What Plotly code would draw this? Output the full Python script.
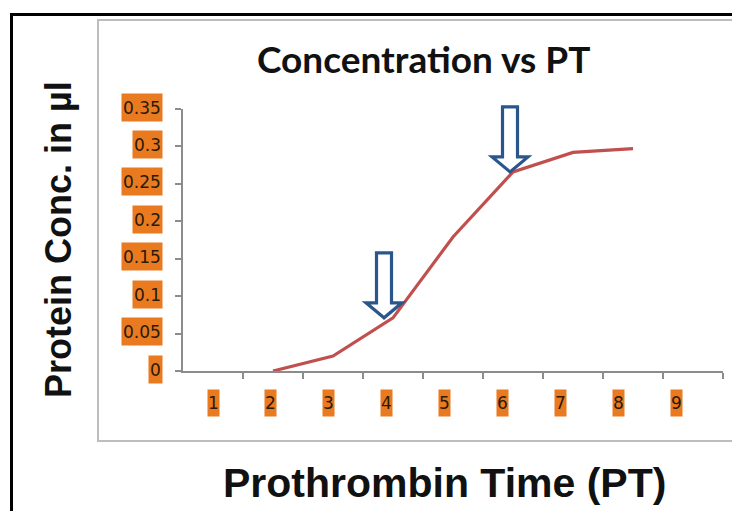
import plotly.graph_objects as go

# ---- data ----
pt_time = [2, 3, 4, 5, 6, 7, 8]
protein_conc = [0.0, 0.02, 0.071, 0.179, 0.266, 0.292, 0.297]
x_tick_labels = ["1", "2", "3", "4", "5", "6", "7", "8", "9"]
y_tick_values = [0, 0.05, 0.1, 0.15, 0.2, 0.25, 0.3, 0.35]
y_tick_labels = ["0", "0.05", "0.1", "0.15", "0.2", "0.25", "0.3", "0.35"]
arrow_targets_x = [3.85, 5.95]
arrow_targets_y = [0.071, 0.266]

# page body has an 8px default margin: the figure is sized to fit the window
OFF = 8
W, H = 740 - OFF, 511 - OFF
def px_x(p):
    return (p - OFF) / W
def px_y(p):
    return 1 - (p - OFF) / H

ORANGE = "#E97A1F"
LINE_RED = "#C0504D"
ARROW_BLUE = "#2B568C"
AXIS_GRAY = "#8C8C8C"

n_cat = len(x_tick_labels)
X_DOMAIN = [px_x(183), px_x(723)]
X_RANGE = [0.5, n_cat + 0.5]
Y_DOMAIN = [px_y(371), px_y(109)]
Y_RANGE = [0, 0.35]

def data_to_paper_x(v):
    return X_DOMAIN[0] + (v - X_RANGE[0]) / (X_RANGE[1] - X_RANGE[0]) * (X_DOMAIN[1] - X_DOMAIN[0])
def data_to_paper_y(v):
    return Y_DOMAIN[0] + (v - Y_RANGE[0]) / (Y_RANGE[1] - Y_RANGE[0]) * (Y_DOMAIN[1] - Y_DOMAIN[0])

fig = go.Figure()
fig.add_trace(go.Scatter(
    x=pt_time, y=protein_conc, mode="lines",
    line=dict(color=LINE_RED, width=3.2),
    showlegend=False, hoverinfo="skip",
))

fig.update_layout(
    width=W, height=H,
    margin=dict(l=0, r=0, t=0, b=0),
    paper_bgcolor="white", plot_bgcolor="white",
    showlegend=False,
    xaxis=dict(
        domain=X_DOMAIN, range=X_RANGE,
        showgrid=False, zeroline=False,
        showline=True, linecolor=AXIS_GRAY, linewidth=1.5,
        tickmode="array",
        tickvals=[i + 0.5 for i in range(1, n_cat + 1)],
        ticks="outside", ticklen=6, tickcolor=AXIS_GRAY, tickwidth=1.5,
        showticklabels=False,
    ),
    yaxis=dict(
        domain=Y_DOMAIN, range=Y_RANGE,
        showgrid=False, zeroline=False,
        showline=True, linecolor=AXIS_GRAY, linewidth=1.5,
        tickmode="array", tickvals=y_tick_values,
        ticks="outside", ticklen=6, tickcolor=AXIS_GRAY, tickwidth=1.5,
        showticklabels=False,
    ),
)

annotations = []
# y tick labels as orange badges
for v, lab in zip(y_tick_values, y_tick_labels):
    annotations.append(dict(
        x=px_x(163), xref="paper", xanchor="right",
        y=v, yref="y", yanchor="middle", yshift=2,
        text=lab, showarrow=False,
        font=dict(family="DejaVu Sans", size=17, color="#2A1A0A"),
        bgcolor=ORANGE, borderpad=1, height=25,
    ))
# x tick labels as orange badges
for i, lab in enumerate(x_tick_labels):
    annotations.append(dict(
        x=i + 1, xref="x", xanchor="center", xshift=-2.1 * i,
        y=px_y(403), yref="paper", yanchor="middle",
        text=lab, showarrow=False,
        font=dict(family="DejaVu Sans", size=17, color="#2A1A0A"),
        bgcolor=ORANGE, borderpad=0, height=26,
    ))
# titles
annotations.append(dict(
    x=px_x(423), xref="paper", y=px_y(59), yref="paper",
    xanchor="center", yanchor="middle",
    text="Concentration vs PT", showarrow=False,
    font=dict(family="Lato", size=37, color="#111111", weight="bold"),
))
annotations.append(dict(
    x=px_x(444), xref="paper", y=px_y(483), yref="paper",
    xanchor="center", yanchor="middle",
    text="Prothrombin Time (PT)", showarrow=False,
    font=dict(family="Liberation Sans", size=41, color="#111111", weight="bold"),
))
annotations.append(dict(
    x=px_x(58), xref="paper", y=px_y(240), yref="paper",
    xanchor="center", yanchor="middle", textangle=-90,
    text="Protein Conc. in µl", showarrow=False,
    font=dict(family="Liberation Sans", size=36, color="#111111", weight="bold"),
))
fig.update_layout(annotations=annotations)

shapes = []
# outer black frame (extends beyond the picture right and bottom)
shapes.append(dict(type="rect", xref="paper", yref="paper",
                   x0=px_x(11.5), x1=px_x(800), y0=px_y(14.5), y1=px_y(560),
                   line=dict(color="black", width=3), fillcolor="rgba(0,0,0,0)", layer="below"))
# inner gray chart box
shapes.append(dict(type="rect", xref="paper", yref="paper",
                   x0=px_x(98), x1=px_x(800), y0=px_y(20), y1=px_y(441),
                   line=dict(color="#BDBDBD", width=2), fillcolor="rgba(0,0,0,0)", layer="below"))
# hollow down arrows pointing at the curve (paper-anchored so they are not clipped)
arrow_path = "M 0 0 L -18 15 L -7.5 15 L -7.5 65 L 7.5 65 L 7.5 15 L 18 15 Z"
for ax_, ay_ in zip(arrow_targets_x, arrow_targets_y):
    shapes.append(dict(type="path", xref="paper", yref="paper",
                       xsizemode="pixel", ysizemode="pixel",
                       xanchor=data_to_paper_x(ax_), yanchor=data_to_paper_y(ay_),
                       path=arrow_path,
                       line=dict(color=ARROW_BLUE, width=3.2),
                       fillcolor="white", layer="above"))
fig.update_layout(shapes=shapes)

fig.write_html("out.html")
